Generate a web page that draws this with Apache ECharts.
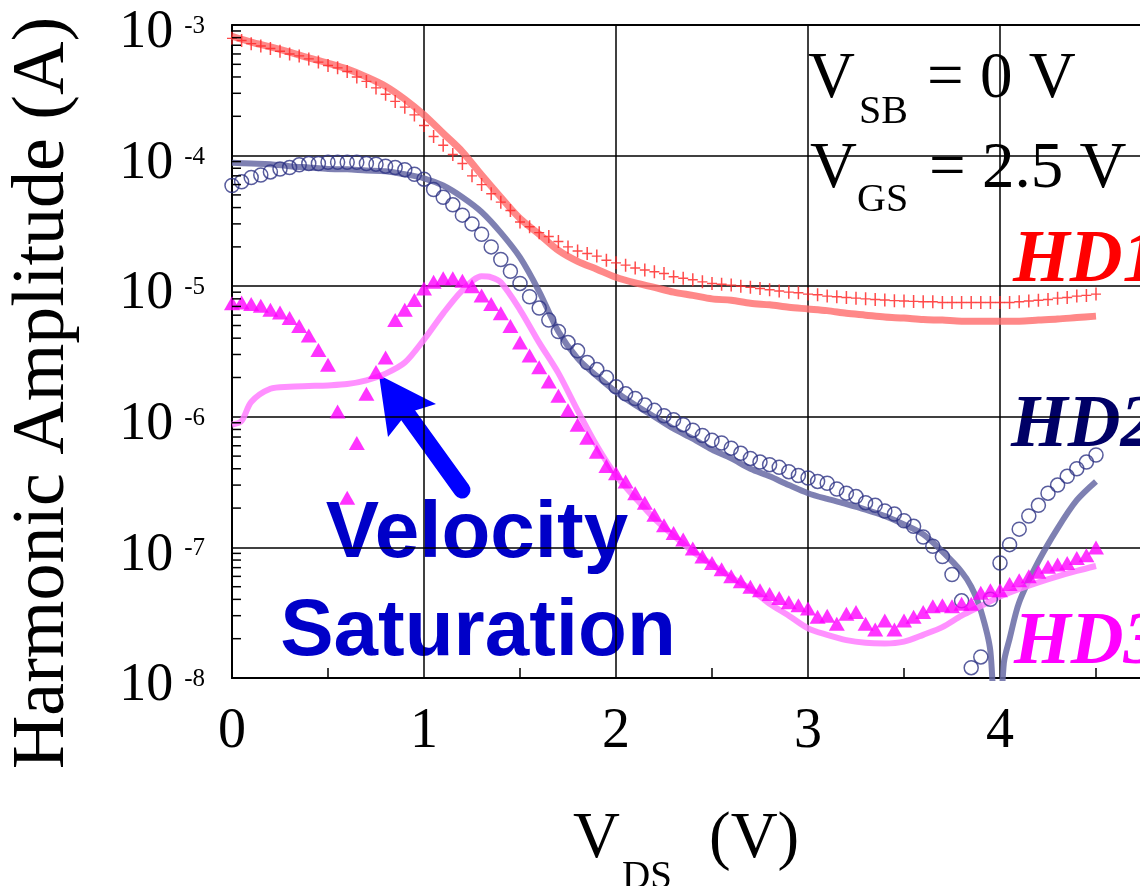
<!DOCTYPE html>
<html>
<head>
<meta charset="utf-8">
<script src="https://cdn.jsdelivr.net/npm/echarts@6/dist/echarts.min.js"></script>
<style>
  html, body { margin: 0; padding: 0; background: #fff; overflow: hidden; }
  #frame { width: 1140px; height: 886px; overflow: hidden; position: relative; }
  /* the plot runs on past the right edge of the frame, up to V_DS = 5 V */
  #chart { width: 1192px; height: 886px; position: absolute; left: 0; top: 0; }
</style>
</head>
<body>
<div id="frame"><div id="chart"></div></div>
<script>
// Drain-source sweep of the measured points (V)
const vdsMeas = [0,0.05,0.1,0.15,0.2,0.25,0.3,0.35,0.4,0.45,0.5,0.55,0.6,0.65,0.7,0.75,0.8,0.85,0.9,0.95,
  1,1.05,1.1,1.15,1.2,1.25,1.3,1.35,1.4,1.45,1.5,1.55,1.6,1.65,1.7,1.75,1.8,1.85,1.9,1.95,
  2,2.05,2.1,2.15,2.2,2.25,2.3,2.35,2.4,2.45,2.5,2.55,2.6,2.65,2.7,2.75,2.8,2.85,2.9,2.95,
  3,3.05,3.1,3.15,3.2,3.25,3.3,3.35,3.4,3.45,3.5,3.55,3.6,3.65,3.7,3.75,3.8,3.85,3.9,3.95,
  4,4.05,4.1,4.15,4.2,4.25,4.3,4.35,4.4,4.45,4.5];

// Measured harmonic amplitudes (A)
const hd1Meas = [7.9e-4,7.6e-4,7.2e-4,6.9e-4,6.6e-4,6.3e-4,6.0e-4,5.8e-4,5.5e-4,5.2e-4,
  4.9e-4,4.7e-4,4.4e-4,4.0e-4,3.7e-4,3.3e-4,2.95e-4,2.6e-4,2.35e-4,2.05e-4,
  1.7e-4,1.4e-4,1.2e-4,1.02e-4,8.7e-5,7.0e-5,6.0e-5,5.1e-5,4.4e-5,3.8e-5,
  3.1e-5,2.85e-5,2.57e-5,2.4e-5,2.2e-5,2.0e-5,1.86e-5,1.78e-5,1.7e-5,1.58e-5,
  1.51e-5,1.45e-5,1.38e-5,1.33e-5,1.29e-5,1.25e-5,1.18e-5,1.15e-5,1.12e-5,1.08e-5,
  1.05e-5,1.035e-5,1.02e-5,1.0e-5,9.8e-6,9.6e-6,9.4e-6,9.2e-6,9.0e-6,8.9e-6,
  8.7e-6,8.6e-6,8.4e-6,8.3e-6,8.2e-6,8.1e-6,8.0e-6,7.9e-6,7.85e-6,7.75e-6,
  7.7e-6,7.65e-6,7.6e-6,7.6e-6,7.5e-6,7.5e-6,7.5e-6,7.5e-6,7.5e-6,7.5e-6,
  7.5e-6,7.5e-6,7.6e-6,7.7e-6,7.8e-6,7.9e-6,8.1e-6,8.2e-6,8.4e-6,8.5e-6,8.7e-6];

const hd2Meas = [5.9e-5,6.3e-5,6.8e-5,7.1e-5,7.5e-5,7.9e-5,8.1e-5,8.5e-5,8.7e-5,8.7e-5,
  8.9e-5,8.9e-5,8.9e-5,8.9e-5,8.7e-5,8.6e-5,8.3e-5,8.1e-5,7.8e-5,7.2e-5,
  6.6e-5,5.5e-5,4.8e-5,4.2e-5,3.5e-5,3.0e-5,2.5e-5,2.0e-5,1.6e-5,1.3e-5,
  1.05e-5,8.3e-6,6.8e-6,5.5e-6,4.5e-6,3.7e-6,3.2e-6,2.6e-6,2.3e-6,2.0e-6,
  1.7e-6,1.5e-6,1.38e-6,1.23e-6,1.12e-6,1.02e-6,9.5e-7,8.7e-7,7.9e-7,7.2e-7,
  6.6e-7,6.3e-7,5.75e-7,5.25e-7,4.8e-7,4.5e-7,4.3e-7,4.1e-7,3.8e-7,3.55e-7,
  3.4e-7,3.2e-7,3.1e-7,2.8e-7,2.6e-7,2.45e-7,2.2e-7,2.1e-7,1.9e-7,1.8e-7,
  1.6e-7,1.45e-7,1.2e-7,1.02e-7,8.5e-8,6.2e-8,3.9e-8,1.2e-8,1.45e-8,4.0e-8,
  7.6e-8,1.05e-7,1.38e-7,1.74e-7,2.1e-7,2.6e-7,3.0e-7,3.5e-7,4.0e-7,4.5e-7,5.1e-7];

const hd3Meas = [7.4e-6,7.5e-6,7.3e-6,7.1e-6,6.6e-6,6.3e-6,5.7e-6,4.95e-6,4.2e-6,3.25e-6,
  2.5e-6,1.1e-6,2.4e-7,6.3e-7,1.5e-6,2.2e-6,2.85e-6,5.5e-6,6.6e-6,7.85e-6,
  9.6e-6,1.08e-5,1.15e-5,1.15e-5,1.1e-5,1.0e-5,8.5e-6,7.3e-6,6.2e-6,4.95e-6,
  3.7e-6,2.95e-6,2.4e-6,1.86e-6,1.45e-6,1.12e-6,8.7e-7,6.9e-7,5.4e-7,4.2e-7,
  3.7e-7,3.2e-7,2.6e-7,2.2e-7,1.78e-7,1.48e-7,1.29e-7,1.15e-7,9.8e-8,8.5e-8,
  7.6e-8,6.8e-8,6.0e-8,5.5e-8,5.0e-8,4.7e-8,4.4e-8,4.1e-8,3.8e-8,3.6e-8,
  3.4e-8,2.95e-8,3.0e-8,2.6e-8,3.1e-8,3.2e-8,2.6e-8,2.35e-8,2.75e-8,2.35e-8,
  2.75e-8,2.95e-8,3.2e-8,3.55e-8,3.6e-8,3.55e-8,3.7e-8,3.7e-8,4.5e-8,4.7e-8,
  4.7e-8,5.25e-8,5.6e-8,6.0e-8,6.5e-8,7.1e-8,7.4e-8,7.6e-8,8.3e-8,8.7e-8,1.0e-7];

// Simulated curves (A)
const vdsSimHd1 = [0,0.1,0.2,0.3,0.4,0.5,0.6,0.7,0.8,0.9,1,1.1,1.2,1.3,1.4,1.5,1.6,1.7,1.8,1.9,
  2,2.1,2.2,2.3,2.4,2.5,2.6,2.7,2.8,2.9,3,3.1,3.2,3.3,3.4,3.5,3.6,3.7,3.8,3.9,4,4.1,4.2,4.3,4.4,4.5];
const hd1Sim = [8.2e-4,7.4e-4,6.8e-4,6.2e-4,5.6e-4,5.1e-4,4.6e-4,4.0e-4,3.4e-4,2.7e-4,
  2.05e-4,1.48e-4,1.07e-4,7.1e-5,4.8e-5,3.3e-5,2.5e-5,1.88e-5,1.55e-5,1.35e-5,
  1.17e-5,1.06e-5,9.8e-6,9.0e-6,8.5e-6,8.0e-6,7.8e-6,7.4e-6,7.2e-6,6.9e-6,
  6.7e-6,6.5e-6,6.2e-6,6.0e-6,5.8e-6,5.7e-6,5.55e-6,5.5e-6,5.4e-6,5.4e-6,
  5.4e-6,5.4e-6,5.5e-6,5.6e-6,5.75e-6,5.9e-6];

const vdsSimHd2 = [0,0.1,0.2,0.3,0.4,0.5,0.6,0.7,0.8,0.9,1,1.1,1.2,1.3,1.4,1.5,1.6,1.7,1.8,1.9,
  2,2.1,2.2,2.3,2.4,2.5,2.6,2.7,2.8,2.9,3,3.1,3.2,3.3,3.4,3.5,3.6,3.7,3.8,3.85,3.9,3.95,
  3.985,4.02,4.05,4.1,4.2,4.3,4.4,4.5];
const hd2Sim = [8.8e-5,8.7e-5,8.6e-5,8.3e-5,8.1e-5,7.9e-5,7.85e-5,7.7e-5,7.6e-5,7.2e-5,
  6.7e-5,5.9e-5,4.8e-5,3.7e-5,2.57e-5,1.66e-5,9.1e-6,4.5e-6,2.8e-6,2.05e-6,
  1.55e-6,1.23e-6,1.0e-6,8.1e-7,6.8e-7,5.6e-7,4.8e-7,4.0e-7,3.5e-7,3.0e-7,
  2.6e-7,2.35e-7,2.15e-7,1.95e-7,1.74e-7,1.5e-7,1.26e-7,9.3e-8,6.5e-8,5.0e-8,3.3e-8,1.6e-8,
  2e-9,1.3e-8,2.0e-8,3.8e-8,7.8e-8,1.4e-7,2.3e-7,3.2e-7];

const vdsSimHd3 = [0,0.05,0.1,0.2,0.3,0.4,0.5,0.6,0.7,0.8,0.9,1,1.1,1.2,1.3,1.35,1.4,1.5,1.6,1.7,1.8,1.9,
  2,2.1,2.2,2.3,2.4,2.5,2.6,2.7,2.8,2.9,3,3.1,3.2,3.3,3.4,3.5,3.6,3.7,3.8,3.9,4,4.1,4.2,4.3,4.4,4.5];
const hd3Sim = [8.7e-7,9.3e-7,1.3e-6,1.64e-6,1.7e-6,1.72e-6,1.74e-6,1.78e-6,1.9e-6,2.14e-6,2.6e-6,
  3.9e-6,6.2e-6,9.3e-6,1.19e-5,1.17e-5,1.07e-5,6.6e-6,3.7e-6,2.16e-6,1.12e-6,6.0e-7,
  3.55e-7,2.4e-7,1.66e-7,1.23e-7,9.3e-8,7.4e-8,5.9e-8,4.8e-8,3.7e-8,3.0e-8,
  2.4e-8,2.14e-8,1.95e-8,1.86e-8,1.84e-8,1.9e-8,2.14e-8,2.45e-8,3.0e-8,3.55e-8,
  4.2e-8,4.8e-8,5.4e-8,6.0e-8,6.6e-8,7.2e-8];

// Axis ticks
const xTicks = [0, 1, 2, 3, 4];
const yDecades = [-8, -7, -6, -5, -4, -3];

const pairs = (xs, ys) => xs.map((x, i) => [x, ys[i]]);

// Log minor ticks (2..9 in each decade) along the left axis
const yMinorTicks = [];
for (let d = 0; d < yDecades.length - 1; d++) {
  for (let k = 2; k <= 9; k++) yMinorTicks.push([0, k * Math.pow(10, yDecades[d])]);
}

const SERIF = '"Liberation Serif", "Times New Roman", serif';
const SANS = '"Liberation Sans", Arial, sans-serif';

const chart = echarts.init(document.getElementById('chart'), null, { renderer: 'canvas' });

const plusPath = 'path://M0,6.25L10,6.25L10,7.75L0,7.75ZM4.25,0L5.75,0L5.75,14L4.25,14Z';
const midText = { textVerticalAlign: 'middle', verticalAlign: 'middle' };

chart.setOption({
  animation: false,
  backgroundColor: '#fff',
  grid: {
    left: 232, top: 25, bottom: 208, right: 0,
    outerBoundsMode: 'none', containLabel: false,
    show: true, borderColor: '#000', borderWidth: 1.5, backgroundColor: 'transparent'
  },
  xAxis: {
    type: 'value', min: 0, max: 5, interval: 1,
    axisLine: { show: true, onZero: false, lineStyle: { color: '#000', width: 2 } },
    axisTick: { show: false, inside: true },
    minorTick: { show: true, splitNumber: 2, length: 10, lineStyle: { color: '#000', width: 1.5 } },
    splitLine: { show: true, lineStyle: { color: '#000', width: 1.5 } },
    axisLabel: {
      margin: 26, fontFamily: SERIF, fontSize: 56, color: '#000',
      formatter: v => (xTicks.indexOf(v) >= 0 ? String(v) : '')
    }
  },
  yAxis: {
    type: 'log', logBase: 10, min: 1e-8, max: 1e-3,
    axisLine: { show: true, lineStyle: { color: '#000', width: 2 } },
    axisTick: { show: false },
    splitLine: { show: true, lineStyle: { color: '#000', width: 1.5 } },
    axisLabel: {
      margin: 27,
      formatter: v => '{b|10}{s|' + Math.round(Math.log10(v)) + '}',
      rich: {
        b: { fontFamily: SERIF, fontSize: 54, color: '#000', lineHeight: 70, verticalAlign: 'bottom' },
        s: { fontFamily: SERIF, fontSize: 25, color: '#000', padding: [24, 0, 0, 11], lineHeight: 30, verticalAlign: 'top' }
      }
    }
  },
  series: [
    {
      name: 'HD1 simulated', type: 'line', data: pairs(vdsSimHd1, hd1Sim),
      showSymbol: false, smooth: 0.3, z: 2,
      lineStyle: { color: '#ff6a6a', width: 7, opacity: 0.8 }
    },
    {
      name: 'HD2 simulated', type: 'line', data: pairs(vdsSimHd2, hd2Sim),
      showSymbol: false, smooth: 0.3, z: 2,
      lineStyle: { color: '#676aa4', width: 6, opacity: 0.85 }
    },
    {
      name: 'HD3 simulated', type: 'line', data: pairs(vdsSimHd3, hd3Sim),
      showSymbol: false, smooth: 0.3, z: 2,
      lineStyle: { color: '#ff7cff', width: 6, opacity: 0.85 }
    },
    {
      name: 'HD1 measured', type: 'scatter', data: pairs(vdsMeas, hd1Meas),
      symbol: plusPath, symbolSize: [10, 13], z: 3,
      itemStyle: { color: '#ff2a2a', opacity: 0.85 }
    },
    {
      name: 'HD2 measured', type: 'scatter', data: pairs(vdsMeas, hd2Meas),
      symbol: 'circle', symbolSize: 14, z: 3,
      itemStyle: { color: 'rgba(0,0,0,0)', borderColor: '#2e3384', borderWidth: 1.5, opacity: 0.8 }
    },
    {
      name: 'HD3 measured', type: 'scatter', data: pairs(vdsMeas, hd3Meas),
      symbol: 'triangle', symbolSize: [16, 14], z: 4,
      itemStyle: { color: '#ff00ff' }
    },
    {
      name: 'y minor ticks', type: 'custom', data: yMinorTicks, z: 5, silent: true,
      renderItem: (params, api) => {
        const p = api.coord([api.value(0), api.value(1)]);
        return {
          type: 'line',
          shape: { x1: p[0], y1: p[1], x2: p[0] + 9, y2: p[1] },
          style: { stroke: '#000', lineWidth: 1.5 }
        };
      }
    }
  ],
  graphic: [
    // Axis titles
    {
      type: 'text', x: 44, y: 393, rotation: Math.PI / 2,
      style: Object.assign({ text: 'Harmonic Amplitude (A)', font: '74px ' + SERIF, fill: '#000',
               textAlign: 'center', align: 'center' }, midText)
    },
    { type: 'text', x: 573, y: 840, style: Object.assign({ text: 'V', font: '65px ' + SERIF, fill: '#000' }, midText) },
    { type: 'text', x: 622, y: 878, style: Object.assign({ text: 'DS', font: '39px ' + SERIF, fill: '#000' }, midText) },
    { type: 'text', x: 709, y: 840, style: Object.assign({ text: '(V)', font: '65px ' + SERIF, fill: '#000' }, midText) },
    // Bias conditions
    { type: 'text', x: 808, y: 80, style: Object.assign({ text: 'V', font: '65px ' + SERIF, fill: '#000' }, midText) },
    { type: 'text', x: 859, y: 112, style: Object.assign({ text: 'SB', font: '40px ' + SERIF, fill: '#000' }, midText) },
    { type: 'text', x: 927, y: 80, style: Object.assign({ text: '= 0 V', font: '65px ' + SERIF, fill: '#000' }, midText) },
    { type: 'text', x: 810, y: 170, style: Object.assign({ text: 'V', font: '65px ' + SERIF, fill: '#000' }, midText) },
    { type: 'text', x: 857, y: 200, style: Object.assign({ text: 'GS', font: '40px ' + SERIF, fill: '#000' }, midText) },
    { type: 'text', x: 929, y: 170, style: Object.assign({ text: '= 2.5 V', font: '65px ' + SERIF, fill: '#000' }, midText) },
    // Curve labels
    { type: 'text', x: 1013, y: 262, style: Object.assign({ text: 'HD1', font: 'italic bold 73px ' + SERIF, fill: '#ff0000' }, midText) },
    { type: 'text', x: 1011, y: 427, style: Object.assign({ text: 'HD2', font: 'italic bold 73px ' + SERIF, fill: '#000066' }, midText) },
    { type: 'text', x: 1014, y: 644, style: Object.assign({ text: 'HD3', font: 'italic bold 73px ' + SERIF, fill: '#ff00ff' }, midText) },
    // Velocity saturation callout
    { type: 'text', x: 477, y: 535, style: Object.assign({ text: 'Velocity', font: 'bold 80px ' + SANS, fill: '#0000c8',
      textAlign: 'center', align: 'center' }, midText) },
    { type: 'text', x: 478, y: 633, style: Object.assign({ text: 'Saturation', font: 'bold 80px ' + SANS, fill: '#0000c8',
      textAlign: 'center', align: 'center' }, midText) },
    { type: 'line', shape: { x1: 462, y1: 490, x2: 400, y2: 404 },
      style: { stroke: '#0000ff', lineWidth: 17, lineCap: 'round' } },
    { type: 'polygon', shape: { points: [[379, 375], [436, 404], [407, 413], [388, 437]] },
      style: { fill: '#0000ff' } }
  ]
});
</script>
</body>
</html>
